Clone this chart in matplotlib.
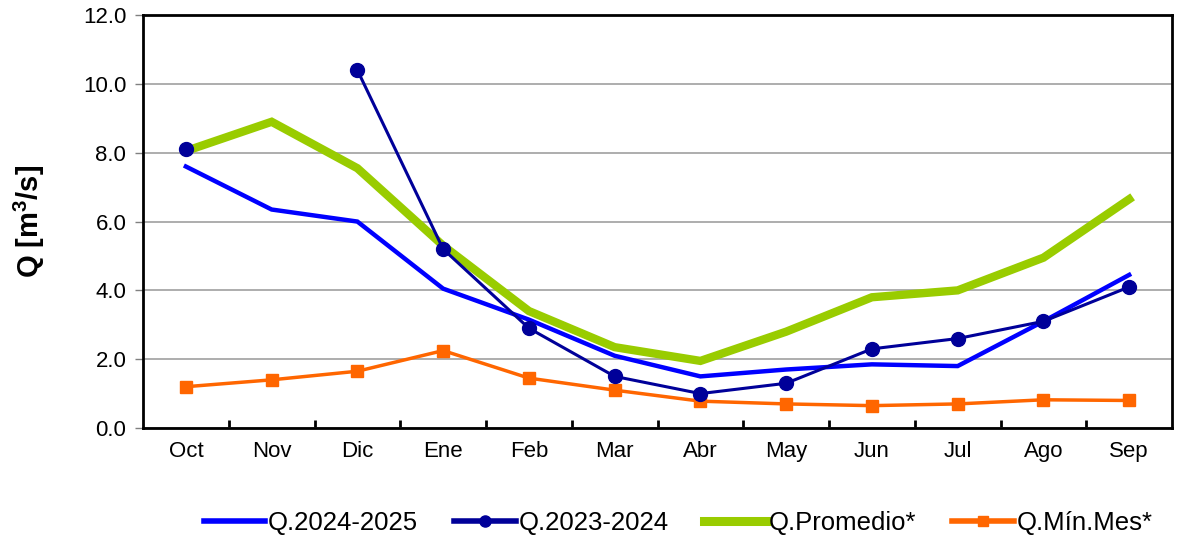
import numpy as np
import matplotlib.pyplot as plt
from matplotlib.ticker import FixedLocator

plt.rcParams.update({
    "font.family": ["Liberation Sans", "DejaVu Sans"],
    "font.size": 16,
    "mathtext.fontset": "custom",
    "mathtext.rm": "Liberation Sans",
    "mathtext.bf": "Liberation Sans:bold",
})

# ── Data ─────────────────────────────────────────────────────────────────────
months = ["Oct", "Nov", "Dic", "Ene", "Feb", "Mar",
          "Abr", "May", "Jun", "Jul", "Ago", "Sep"]

q_2024_2025 = [7.6, 6.35, 6.0, 4.05, 3.15, 2.1, 1.5, 1.7, 1.85, 1.8, 3.1, 4.45]
q_2023_2024 = [8.1, np.nan, 10.4, 5.2, 2.9, 1.5, 1.0, 1.3, 2.3, 2.6, 3.1, 4.1]
q_promedio  = [8.05, 8.9, 7.55, 5.3, 3.4, 2.35, 1.95, 2.8, 3.8, 4.0, 4.95, 6.65]
q_min_mes   = [1.2, 1.4, 1.65, 2.25, 1.45, 1.1, 0.78, 0.7, 0.65, 0.7, 0.82, 0.8]

y_ticks = np.arange(0, 13, 2)

BLUE   = "#0000ff"
NAVY   = "#000099"
GREEN  = "#99cc00"
ORANGE = "#ff6600"

fig = plt.figure(figsize=(11.77, 5.40), dpi=100)
ax = fig.add_axes([0.1215, 0.2074, 0.8743, 0.7646])

x = np.arange(len(months))

ax.plot(x, q_2024_2025, color=BLUE, linewidth=3.2, label="Q.2024-2025",
        solid_joinstyle="miter", zorder=3)
ax.plot(x, q_2023_2024, color=NAVY, linewidth=2.2, marker="o",
        markersize=10, label="Q.2023-2024", zorder=5)
ax.plot(x, q_promedio, color=GREEN, linewidth=6, label="Q.Promedio*",
        solid_joinstyle="miter", zorder=4)
ax.plot(x, q_min_mes, color=ORANGE, linewidth=2.5, marker="s",
        markersize=9, label="Q.Mín.Mes*", zorder=3)

# Axes / ticks
ax.set_xlim(-0.5, len(months) - 0.5)
ax.set_ylim(0, 12)
ax.set_xticks(x)
ax.set_xticklabels(months)
ax.xaxis.set_minor_locator(FixedLocator(np.arange(0.5, len(months) - 1, 1)))
ax.tick_params(axis="x", which="major", length=0, pad=9)
ax.tick_params(axis="x", which="minor", length=6, width=2, direction="in")
ax.set_yticks(y_ticks)
ax.set_yticklabels([f"{v:.1f}" for v in y_ticks])
ax.tick_params(axis="y", length=6, width=1, pad=6, color="#808080")

ax.grid(axis="y", color="#a0a0a0", linewidth=1.2)
ax.set_axisbelow(True)
for sp in ax.spines.values():
    sp.set_linewidth(2)
    sp.set_color("black")

ax.set_ylabel(r"Q [m$^{\mathbf{3}}$/s]", fontsize=21, fontweight="bold",
              labelpad=26)

leg = ax.legend(loc="upper center", bbox_to_anchor=(0.52, -0.145), ncol=4,
                frameon=False, fontsize=18.5, handlelength=2.4,
                handletextpad=0.1, columnspacing=1.4)
for h, lw, ms in zip(leg.legend_handles, [4, 4, 6.5, 4], [0, 8, 0, 7]):
    h.set_linewidth(lw)
    h.set_markersize(ms)

fig.savefig("out.png", dpi=100)
